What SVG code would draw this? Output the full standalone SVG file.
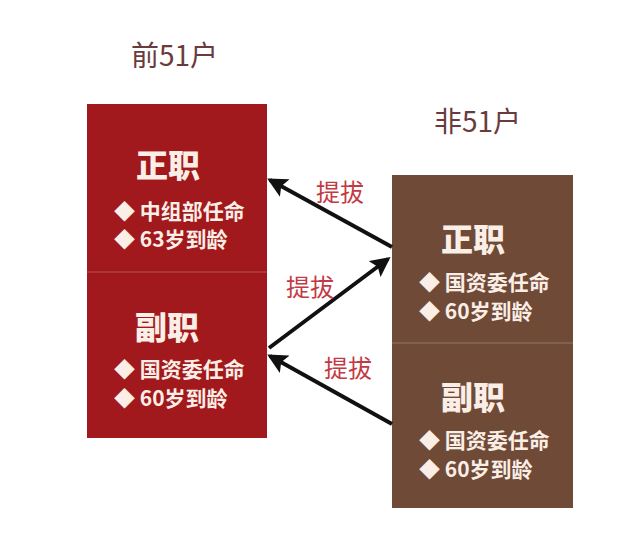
<svg xmlns="http://www.w3.org/2000/svg" width="644" height="550" viewBox="0 0 644 550">
<style>
.title{font-family:"Noto Sans CJK SC","Noto Sans",sans-serif;font-size:28px;fill:#6b3a3c;}
.head{font-family:"Noto Sans CJK SC","Noto Sans",sans-serif;font-size:32px;font-weight:900;fill:#fbeee6;}
.item{font-family:"Noto Sans CJK SC","Noto Sans",sans-serif;font-size:21px;font-weight:bold;fill:#fbeee6;}
.lbl{font-family:"Noto Sans CJK SC","Noto Sans",sans-serif;font-size:24px;fill:#c23a44;}
.div{stroke:#ffffff;stroke-opacity:0.25;stroke-width:1;}
.arr{stroke:#111111;stroke-width:4;fill:none;marker-end:url(#ah);}
</style>
<defs>
<marker id="ah" markerWidth="5" markerHeight="5" refX="4.2" refY="2.5" orient="auto" markerUnits="strokeWidth" viewBox="0 0 5 5">
<path d="M0,0 L5,2.5 L0,5 L1,2.5 Z" fill="#111111"/>
</marker>
</defs>
<rect width="644" height="550" fill="#ffffff"/>
<text class="title" x="131" y="66">前51户</text>
<text class="title" x="434" y="132">非51户</text>
<g id="left-top">
<rect x="87" y="104" width="180" height="168" fill="#a1191c"/>
<text class="head" x="136" y="177">正职</text>
<text class="item" x="114" y="219">◆ 中组部任命</text>
<text class="item" x="114" y="247">◆ 63岁到龄</text>
</g>
<g id="left-bottom">
<rect x="87" y="272" width="180" height="166" fill="#a1191c"/>
<line class="div" x1="87" y1="272" x2="267" y2="272"/>
<text class="head" x="135" y="339">副职</text>
<text class="item" x="114" y="377">◆ 国资委任命</text>
<text class="item" x="114" y="406">◆ 60岁到龄</text>
</g>
<g id="right-top">
<rect x="392" y="175" width="181" height="168" fill="#6e4a37"/>
<text class="head" x="441" y="251">正职</text>
<text class="item" x="419" y="290">◆ 国资委任命</text>
<text class="item" x="419" y="319">◆ 60岁到龄</text>
</g>
<g id="right-bottom">
<rect x="392" y="343" width="181" height="165" fill="#6e4a37"/>
<line class="div" x1="392" y1="343" x2="573" y2="343"/>
<text class="head" x="441" y="409">副职</text>
<text class="item" x="419" y="448">◆ 国资委任命</text>
<text class="item" x="419" y="477">◆ 60岁到龄</text>
</g>
<g id="connectors">
<line class="arr" x1="392" y1="247" x2="270" y2="180"/>
<line class="arr" x1="269" y1="348" x2="388" y2="259"/>
<line class="arr" x1="392" y1="424" x2="270" y2="356"/>
<text class="lbl" x="316" y="201">提拔</text>
<text class="lbl" x="286" y="296">提拔</text>
<text class="lbl" x="324" y="377">提拔</text>
</g>
</svg>
